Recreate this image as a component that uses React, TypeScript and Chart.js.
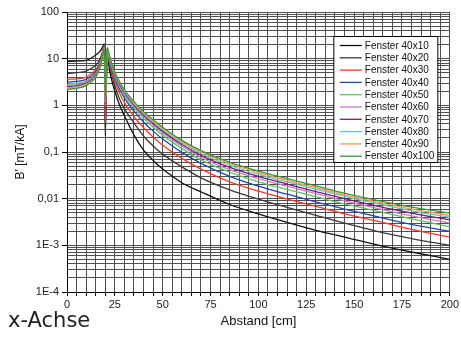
import React, { useEffect, useRef } from 'react';
import { Chart, registerables } from 'chart.js';

Chart.register(...registerables);

// Shared x positions (Abstand in cm)
const X_VALUES = [0, 5, 10, 15, 17, 18, 19, 19.5, 20, 21, 22, 23, 25, 27.5, 30, 35, 40, 45, 50, 60, 70, 85, 100, 115, 130, 145, 162, 180, 200];

const F40x10 = [8.7, 8.9, 9.2, 12, 14, 16, 19, 21, 0.22, 14, 6.5, 4, 2, 1.0, 0.6, 0.23, 0.11, 0.066, 0.043, 0.022, 0.014, 0.0075, 0.0047, 0.0031, 0.0021, 0.0015, 0.00102, 0.00072, 0.0005];
const F40x20 = [4.8, 5.0, 5.4, 7.3, 9.5, 12, 16.5, 19, 0.3, 15, 8, 5.2, 2.6, 1.35, 0.85, 0.42, 0.22, 0.135, 0.09, 0.048, 0.028, 0.0155, 0.0098, 0.0065, 0.0044, 0.003, 0.002, 0.0014, 0.001];
const F40x30 = [3.6, 3.7, 4.0, 5.8, 8, 10.5, 15.5, 18.5, 0.41, 15.5, 9, 6, 3.2, 1.8, 1.15, 0.57, 0.33, 0.21, 0.14, 0.073, 0.043, 0.023, 0.0145, 0.0098, 0.0068, 0.0047, 0.0033, 0.0022, 0.0015];
const F40x40 = [3.15, 3.25, 3.6, 5.2, 7.4, 10, 15, 18, 0.85, 16, 10, 6.8, 3.8, 2.2, 1.45, 0.75, 0.44, 0.28, 0.19, 0.098, 0.057, 0.03, 0.0185, 0.0125, 0.0085, 0.006, 0.0041, 0.0028, 0.002];
const F40x50 = [2.85, 2.95, 3.3, 4.8, 7, 9.5, 14.5, 18, 0.95, 16.5, 10.5, 7.3, 4.2, 2.5, 1.65, 0.88, 0.52, 0.34, 0.23, 0.118, 0.068, 0.037, 0.023, 0.0158, 0.011, 0.0077, 0.0054, 0.0037, 0.0025];
const F40x60 = [2.65, 2.75, 3.1, 4.6, 6.7, 9.2, 14.5, 17.5, 1.0, 16.5, 11, 7.7, 4.5, 2.7, 1.8, 0.97, 0.58, 0.38, 0.26, 0.133, 0.077, 0.042, 0.027, 0.0185, 0.0128, 0.009, 0.0062, 0.0043, 0.003];
const F40x70 = [2.5, 2.6, 2.95, 4.4, 6.5, 9, 14, 17.5, 1.1, 17, 11.5, 8, 4.7, 2.85, 1.9, 1.03, 0.62, 0.41, 0.28, 0.145, 0.085, 0.047, 0.030, 0.0205, 0.0142, 0.0100, 0.0069, 0.0049, 0.0035];
const F40x80 = [2.38, 2.48, 2.85, 4.2, 6.3, 8.8, 14, 17.5, 1.15, 17, 11.8, 8.3, 4.9, 3.0, 2.0, 1.09, 0.66, 0.44, 0.30, 0.157, 0.093, 0.052, 0.033, 0.0228, 0.016, 0.0112, 0.0078, 0.0055, 0.004];
const F40x90 = [2.3, 2.4, 2.75, 4.1, 6.2, 8.7, 14, 17.5, 1.2, 17, 12, 8.5, 5.0, 3.1, 2.08, 1.14, 0.69, 0.46, 0.32, 0.167, 0.1, 0.056, 0.036, 0.0246, 0.0172, 0.012, 0.0084, 0.006, 0.0044];
const F40x100 = [2.2, 2.3, 2.65, 4.0, 6.1, 8.6, 14, 17.5, 1.3, 17, 12.2, 8.7, 5.2, 3.2, 2.15, 1.2, 0.73, 0.49, 0.34, 0.177, 0.107, 0.06, 0.039, 0.027, 0.0188, 0.0131, 0.0092, 0.0066, 0.0049];

const SERIES_VALUES = [F40x10, F40x20, F40x30, F40x40, F40x50, F40x60, F40x70, F40x80, F40x90, F40x100];
const SERIES_LABELS = ['Fenster 40x10', 'Fenster 40x20', 'Fenster 40x30', 'Fenster 40x40', 'Fenster 40x50', 'Fenster 40x60', 'Fenster 40x70', 'Fenster 40x80', 'Fenster 40x90', 'Fenster 40x100'];
const SERIES_COLORS = ['#111111', '#3a3a3a', '#f23b2b', '#2446ad', '#5ec45e', '#c77ac7', '#7a1e6e', '#5ec8c8', '#ff9a4a', '#3d943d'];

const Y_MAJOR_VALUES = [1e-4, 1e-3, 0.01, 0.1, 1, 10, 100];
const Y_MAJOR_LABELS = ['1E-4', '1E-3', '0,01', '0,1', '1', '10', '100'];
const X_LABEL_STEP = 25;
const X_GRID_STEP = 5;

const X_TITLE = 'Abstand [cm]';
const Y_TITLE = "B' [mT/kA]";
const CORNER_TEXT = 'x-Achse';

function majorIndex(v: number): number {
  for (let i = 0; i < Y_MAJOR_VALUES.length; i++) {
    if (Math.abs(Math.log10(v) - Math.log10(Y_MAJOR_VALUES[i])) < 1e-6) return i;
  }
  return -1;
}

const boxLegend = {
  id: 'boxLegend',
  afterDatasetsDraw(chart: any) {
    const { ctx, chartArea } = chart;
    const x0 = chartArea.right - 116;
    const y0 = chartArea.top + 24.5;
    const w = 104;
    const h = 126;
    ctx.save();
    ctx.fillStyle = '#ffffff';
    ctx.fillRect(x0, y0, w, h);
    ctx.strokeStyle = '#000000';
    ctx.lineWidth = 1;
    ctx.strokeRect(x0, y0, w, h);
    ctx.font = '10px "Liberation Sans", Arial, sans-serif';
    ctx.textBaseline = 'middle';
    ctx.textAlign = 'left';
    chart.data.datasets.forEach((ds: any, i: number) => {
      const y = y0 + 9 + i * 12.3;
      ctx.strokeStyle = ds.borderColor;
      ctx.lineWidth = 1.3;
      ctx.beginPath();
      ctx.moveTo(x0 + 6, y);
      ctx.lineTo(x0 + 28, y);
      ctx.stroke();
      ctx.fillStyle = '#111111';
      ctx.fillText(ds.label, x0 + 31, y + 0.5);
    });
    ctx.restore();
  },
  afterDraw(chart: any) {
    const { ctx } = chart;
    ctx.save();
    ctx.font = '21px "DejaVu Sans", sans-serif';
    ctx.fillStyle = '#222222';
    ctx.textBaseline = 'alphabetic';
    ctx.fillText(CORNER_TEXT, 8, 327);
    ctx.restore();
  },
};

export default function App() {
  const canvasRef = useRef<HTMLCanvasElement | null>(null);

  useEffect(() => {
    if (!canvasRef.current) return;
    const datasets = SERIES_VALUES.map((vals, i) => ({
      label: SERIES_LABELS[i],
      data: X_VALUES.map((x, j) => ({ x, y: vals[j] })),
      borderColor: SERIES_COLORS[i],
      backgroundColor: SERIES_COLORS[i],
      borderWidth: 1.3,
      pointRadius: 0,
      fill: false,
      cubicInterpolationMode: 'monotone' as const,
      order: SERIES_VALUES.length - i,
    }));

    const tickFont = { family: '"Liberation Sans", Arial, sans-serif', size: 11 };
    const chart = new Chart(canvasRef.current, {
      type: 'line',
      data: { datasets },
      plugins: [boxLegend],
      options: {
        responsive: false,
        animation: false,
        devicePixelRatio: 1,
        layout: { padding: { top: 12, right: 9, left: 0, bottom: 0 } },
        plugins: {
          legend: { display: false },
          tooltip: { enabled: false },
        },
        scales: {
          x: {
            type: 'linear',
            min: 0,
            max: 200,
            afterFit: (s: any) => { s.height = 49; },
            ticks: {
              stepSize: X_GRID_STEP,
              autoSkip: false,
              maxRotation: 0,
              color: '#222222',
              font: tickFont,
              padding: 2,
              callback: (v: any) => (Number(v) % X_LABEL_STEP === 0 ? String(v) : ''),
            },
            grid: {
              color: '#505050',
              lineWidth: 1,
              tickLength: 4,
              tickColor: '#000000',
            },
            border: { color: '#000000', width: 1 },
            title: {
              display: true,
              text: X_TITLE,
              color: '#111111',
              font: { family: '"Liberation Sans", Arial, sans-serif', size: 13 },
              padding: { top: 0, bottom: 11.5 },
            },
          },
          y: {
            type: 'logarithmic',
            min: 1e-4,
            max: 100,
            afterFit: (s: any) => { s.width = 67; },
            afterBuildTicks: (s: any) => {
              const ticks: any[] = [];
              for (let e = -4; e <= 1; e++) {
                for (let m = 1; m <= 9; m++) {
                  ticks.push({ value: m * Math.pow(10, e), major: m === 1 });
                }
              }
              ticks.push({ value: 100, major: true });
              s.ticks = ticks;
            },
            ticks: {
              autoSkip: false,
              color: '#222222',
              font: tickFont,
              padding: 3,
              callback: (v: any) => {
                const k = majorIndex(Number(v));
                return k >= 0 ? Y_MAJOR_LABELS[k] : '';
              },
            },
            grid: {
              color: '#505050',
              lineWidth: 1,
              tickLength: 5,
              tickColor: (c: any) => (c.tick && majorIndex(c.tick.value) >= 0 ? '#000000' : 'rgba(0,0,0,0)'),
            },
            border: { color: '#000000', width: 1 },
            title: {
              display: true,
              text: Y_TITLE,
              color: '#111111',
              font: { family: '"Liberation Sans", Arial, sans-serif', size: 12 },
              padding: { top: 13, bottom: 0 },
            },
          },
        },
      },
    });
    return () => chart.destroy();
  }, []);

  return (
    <div style={{ position: 'fixed', left: 0, top: 0, width: 461, height: 341, background: '#ffffff' }}>
      <canvas ref={canvasRef} width={461} height={341} style={{ display: 'block', width: 461, height: 341 }} />
    </div>
  );
}
